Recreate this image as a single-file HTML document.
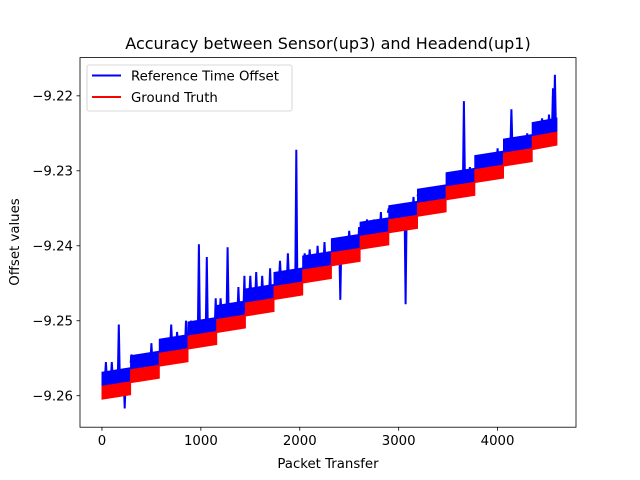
<!DOCTYPE html>
<html><head><meta charset="utf-8"><style>
html,body{margin:0;padding:0;background:#fff}
svg{display:block;font-family:"DejaVu Sans","Liberation Sans",sans-serif}
</style></head><body>
<svg id="chart" width="640" height="480" viewBox="0 0 640 480">
<rect width="640" height="480" fill="#fff"/>
<text x="328" y="49" font-size="16" text-anchor="middle">Accuracy between Sensor(up3) and Headend(up1)</text>
<g id="plot"></g>
<g id="xticks"></g>
<g id="yticks"></g>
<rect x="80" y="57.6" width="496" height="369.6" fill="none" stroke="#000" stroke-width="0.8"/>
<text x="328" y="468" font-size="13.3" text-anchor="middle">Packet Transfer</text>
<text x="19" y="242" font-size="13.3" text-anchor="middle" transform="rotate(-90 19 242)">Offset values</text>
<g>
<rect x="87" y="65" width="205" height="46" rx="2" fill="#fff" fill-opacity="0.8" stroke="#ccc" stroke-width="0.8"/>
<line x1="92" y1="75.5" x2="121" y2="75.5" stroke="#0000ff" stroke-width="2"/>
<text x="131" y="80.5" font-size="13.3">Reference Time Offset</text>
<line x1="92" y1="97" x2="121" y2="97" stroke="#ff0000" stroke-width="2"/>
<text x="131" y="102" font-size="13.3">Ground Truth</text>
</g>
</svg>
<script>
const xTicks=[0,1000,2000,3000,4000];
const yTicks=[-9.22,-9.23,-9.24,-9.25,-9.26];
const stepStarts=[0,290,580,870,1160,1450,1740,2030,2320,2610,2900,3190,3480,3770,4060,4350];
const stepEnd=4600;
const groundTruth=[-9.2596,-9.2574,-9.2552,-9.2529,-9.2507,-9.2485,-9.2463,-9.2441,-9.2418,-9.2396,-9.2374,-9.2352,-9.2330,-9.2307,-9.2285,-9.2263];
const referenceOffset=[-9.2578,-9.2556,-9.2534,-9.2511,-9.2489,-9.2467,-9.2445,-9.2423,-9.2400,-9.2378,-9.2356,-9.2334,-9.2312,-9.2289,-9.2267,-9.2245];
const spikeX=[40,100,170,230,300,400,500,620,700,760,850,900,980,1060,1150,1200,1270,1380,1440,1500,1560,1620,1700,1800,1880,1965,2050,2100,2180,2250,2350,2410,2500,2600,2680,2750,2820,2900,3000,3070,3150,3200,3300,3400,3500,3600,3660,3720,3800,3900,4000,4080,4140,4220,4300,4380,4450,4520,4560,4580];
const spikeY=[-9.2555,-9.2555,-9.2505,-9.2617,-9.2545,-9.2545,-9.2530,-9.2525,-9.2505,-9.2515,-9.2500,-9.2500,-9.2398,-9.2415,-9.2470,-9.2470,-9.2402,-9.2455,-9.2440,-9.2440,-9.2435,-9.2440,-9.2430,-9.2420,-9.2410,-9.2272,-9.2410,-9.2405,-9.2400,-9.2395,-9.2390,-9.2472,-9.2380,-9.2375,-9.2365,-9.2365,-9.2355,-9.2350,-9.2345,-9.2478,-9.2335,-9.2330,-9.2325,-9.2320,-9.2310,-9.2300,-9.2207,-9.2295,-9.2290,-9.2280,-9.2270,-9.2260,-9.2218,-9.2260,-9.2250,-9.2240,-9.2230,-9.2225,-9.2190,-9.2172];

const NS='http://www.w3.org/2000/svg';
const X0=80,X1=576,Y0=57.6,Y1=427.2;
const xmin=-222,xmax=4793,ymin=-9.2642,ymax=-9.2149;
const TILT=0.0006;
function sx(v){return X0+(v-xmin)/(xmax-xmin)*(X1-X0);}
function sy(v){return Y1-(v-ymin)/(ymax-ymin)*(Y1-Y0);}
function mk(tag,attrs,parent){const e=document.createElementNS(NS,tag);for(const k in attrs)e.setAttribute(k,attrs[k]);parent.appendChild(e);return e;}
function levelAt(levels,x){let v=levels[0];for(let i=0;i<stepStarts.length;i++){if(x>=stepStarts[i])v=levels[i];}return v;}
const plot=document.getElementById('plot');
function blocks(levels,color,h,name){
  let d='';
  stepStarts.forEach((s,i)=>{const e=i+1<stepStarts.length?stepStarts[i+1]:stepEnd;
    const xa=sx(s),xb=sx(e),ya=sy(levels[i]),yb=sy(levels[i]+TILT);
    d+='M'+xa.toFixed(1)+' '+(ya-h/2).toFixed(1)+'L'+xb.toFixed(1)+' '+(yb-h/2).toFixed(1)+'L'+xb.toFixed(1)+' '+(yb+h/2).toFixed(1)+'L'+xa.toFixed(1)+' '+(ya+h/2).toFixed(1)+'Z';});
  const p=mk('path',{d:d,fill:color,stroke:color,'stroke-width':'1'},plot);
  
  
}
blocks(referenceOffset,'#0000ff',14,'reference-time-offset-band');
let sd='';
spikeX.forEach((x,i)=>{const b=levelAt(referenceOffset,x);sd+='M'+sx(x-10).toFixed(1)+' '+sy(b).toFixed(1)+'L'+sx(x).toFixed(1)+' '+sy(spikeY[i]).toFixed(1)+'L'+sx(x+10).toFixed(1)+' '+sy(b).toFixed(1);});
const sp=mk('path',{d:sd,fill:'none',stroke:'#0000ff','stroke-width':'2'},plot);


blocks(groundTruth,'#ff0000',13,'ground-truth-band');
const xg=document.getElementById('xticks'),yg=document.getElementById('yticks');
xTicks.forEach(t=>{
  const x=sx(t);
  const l=mk('line',{x1:x,x2:x,y1:Y1,y2:Y1+3.5,stroke:'#000','stroke-width':'0.8'},xg);
  
  
  const tx=mk('text',{x:x,y:Y1+18,'font-size':'13.3','text-anchor':'middle'},xg);
  tx.textContent=String(t);
  
  
});
yTicks.forEach(t=>{
  const y=sy(t);
  const l=mk('line',{x1:X0-3.5,x2:X0,y1:y,y2:y,stroke:'#000','stroke-width':'0.8'},yg);
  
  
  const tx=mk('text',{x:X0-7,y:y+4.8,'font-size':'13.3','text-anchor':'end'},yg);
  tx.textContent='\u2212'+Math.abs(t).toFixed(2);
  
  
});
</script>
</body></html>
